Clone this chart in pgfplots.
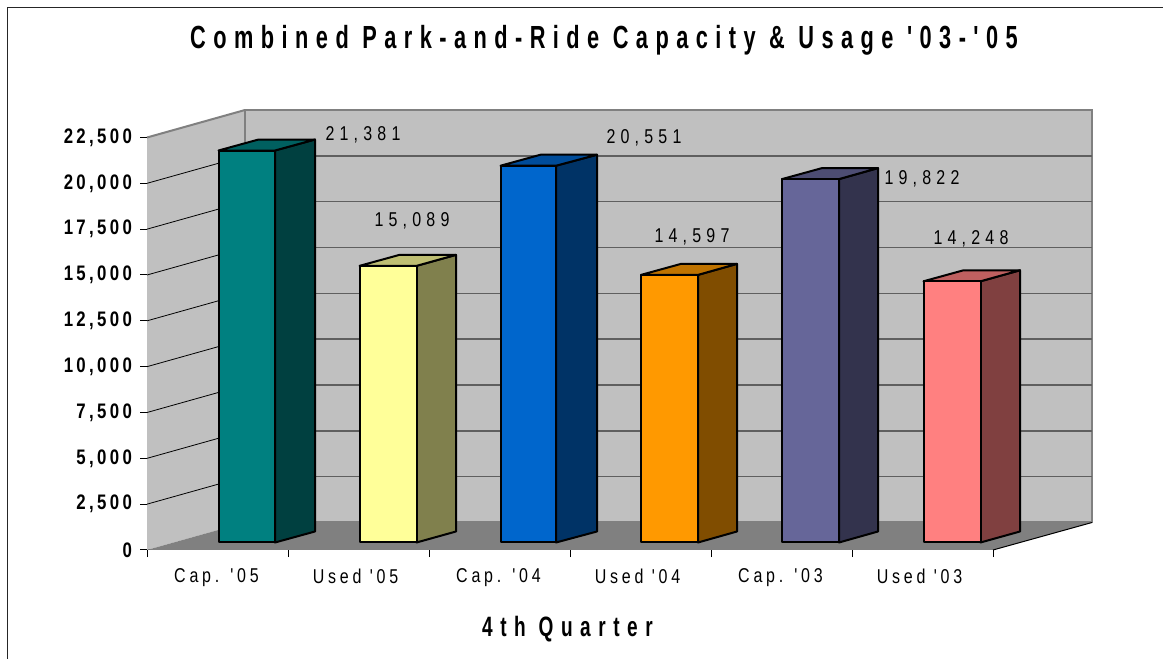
\documentclass[border=0pt]{standalone}
\usepackage{fontspec}
\usepackage{pgfplots}
\pgfplotsset{compat=1.18}
\setmainfont{Liberation Sans}
\newfontfamily\titlefont[FakeStretch=0.68,LetterSpace=23.3]{Liberation Sans}
\newfontfamily\quarterfont[FakeStretch=0.68,LetterSpace=27]{Liberation Sans}
\newfontfamily\labelfont[FakeStretch=0.8,LetterSpace=16]{Liberation Sans}
\newfontfamily\catfont[FakeStretch=0.8,LetterSpace=19]{Liberation Sans}
\newfontfamily\valuefont[FakeStretch=0.8,LetterSpace=26]{Liberation Sans}
\definecolor{wall}{HTML}{C0C0C0}
\definecolor{edge}{HTML}{808080}
\definecolor{gridc}{HTML}{5F5F5F}
\definecolor{tealf}{HTML}{008080}\definecolor{teals}{HTML}{004040}\definecolor{tealt}{HTML}{006060}
\definecolor{yelf}{HTML}{FFFF99}\definecolor{yels}{HTML}{80804D}\definecolor{yelt}{HTML}{BFBF73}
\definecolor{bluef}{HTML}{0066CC}\definecolor{blues}{HTML}{003366}\definecolor{bluet}{HTML}{004C99}
\definecolor{orgf}{HTML}{FF9900}\definecolor{orgs}{HTML}{804D00}\definecolor{orgt}{HTML}{BF7300}
\definecolor{purf}{HTML}{666699}\definecolor{purs}{HTML}{33334D}\definecolor{purt}{HTML}{4D4D73}
\definecolor{pinkf}{HTML}{FF8080}\definecolor{pinks}{HTML}{804040}\definecolor{pinkt}{HTML}{BF6060}
% one 3d column: side face, top face, front face (shifted up off the front edge of the floor)
% args: x left, x right, x left back, x right back, value, value+depth, colours
\newcommand{\threedbar}[9]{
  \addplot[draw=black, line width=2pt, line join=round, fill=#8, yshift=7.5pt] coordinates {(#2,0)(#2,#5)(#4,#6)(#4,600)} -- cycle;
  \addplot[draw=black, line width=2pt, line join=round, fill=#9, yshift=7.5pt] coordinates {(#1,#5)(#3,#6)(#4,#6)(#2,#5)} -- cycle;
  \addplot[draw=black, line width=2pt, line join=round, fill=#7, yshift=7.5pt] coordinates {(#1,0)(#1,#5)(#2,#5)(#2,0)} -- cycle;
}
\begin{document}
\begin{tikzpicture}
\useasboundingbox (0,0) rectangle (1163pt,659pt);
\draw[line width=1.8pt, color=black!85] (7.5pt,0) -- (7.5pt,651.5pt) -- (1163pt,651.5pt);
\begin{axis}[
  at={(147pt,109pt)}, anchor=south west,
  scale only axis, width=846pt, height=412.5pt,
  xmin=147, xmax=993, ymin=0, ymax=22500,
  clip=false,
  axis x line*=bottom, axis y line*=left,
  axis line style={line width=1pt, -},
  ytick={0,2500,...,22500},
  xtick={216.5,355.5,498.5,637.5,780.5,919.5},
  xticklabels={Cap. '05,Used '05,Cap. '04,Used '04,Cap. '03,Used '03},
  minor xtick={147,288,429,570,711,852,993},
  tick align=outside,
  major x tick style={draw=none},
  minor tick length=7pt,
  major tick length=7pt,
  tick style={black, line width=1pt},
  /pgf/number format/assume math mode=true,
  /pgf/number format/1000 sep={,},
  scaled y ticks=false,
  yticklabel style={font=\labelfont\bfseries\fontsize{21}{21}\selectfont, xshift=-4.5pt},
  xticklabel style={font=\catfont\fontsize{20}{20}\selectfont, yshift=-8pt},
  title={Combined Park-and-Ride Capacity \& Usage '03-'05},
  title style={font=\titlefont\bfseries\fontsize{32}{32}\selectfont, at={(0.5402,1.2205)}, anchor=center},
  xlabel={4th Quarter},
  xlabel style={font=\quarterfont\bfseries\fontsize{28}{28}\selectfont, at={(0.4970,-0.193)}, anchor=center},
]
% walls and floor
\addplot[fill=wall, draw=none] coordinates {(147,0)(245,1500)(245,24000)(147,22500)} -- cycle;
\addplot[fill=wall, draw=edge, line width=2pt] coordinates {(245,1500)(245,24000)(1092,24000)(1092,1500)} -- cycle;
\addplot[draw=edge, line width=2pt] coordinates {(147,22500)(245,24000)};
% grid on the back wall
\addplot[draw=gridc, line width=1.5pt, unbounded coords=jump] coordinates {
  (245,4000)(1092,4000) (nan,nan)
  (245,6500)(1092,6500) (nan,nan)
  (245,9000)(1092,9000) (nan,nan)
  (245,11500)(1092,11500) (nan,nan)
  (245,14000)(1092,14000) (nan,nan)
  (245,16500)(1092,16500) (nan,nan)
  (245,19000)(1092,19000) (nan,nan)
  (245,21500)(1092,21500)
};
% grid on the side wall
\addplot[draw=black, line width=0.8pt, unbounded coords=jump] coordinates {
  (147,2500)(245,4000) (nan,nan)
  (147,5000)(245,6500) (nan,nan)
  (147,7500)(245,9000) (nan,nan)
  (147,10000)(245,11500) (nan,nan)
  (147,12500)(245,14000) (nan,nan)
  (147,15000)(245,16500) (nan,nan)
  (147,17500)(245,19000) (nan,nan)
  (147,20000)(245,21500)
};
\addplot[fill=edge, draw=none] coordinates {(147,0)(993,0)(1092,1500)(245,1500)} -- cycle;
\addplot[draw=black, line width=1pt] coordinates {(993,0)(1092,1500)};
% columns
\threedbar{218.5}{275}{258.5}{315}{21381}{21981}{tealf}{teals}{tealt}
\threedbar{359.5}{416.5}{399.5}{456}{15089}{15689}{yelf}{yels}{yelt}
\threedbar{500.5}{556}{540.5}{597}{20551}{21151}{bluef}{blues}{bluet}
\threedbar{641}{698}{681}{737}{14597}{15197}{orgf}{orgs}{orgt}
\threedbar{782}{839}{822}{878}{19822}{20422}{purf}{purs}{purt}
\threedbar{923.5}{980.5}{963.5}{1020}{14248}{14848}{pinkf}{pinks}{pinkt}
% value labels
\node[font=\valuefont\fontsize{20}{20}\selectfont] at (axis cs:363,22640) {21,381};
\node[font=\valuefont\fontsize{20}{20}\selectfont] at (axis cs:412,17950) {15,089};
\node[font=\valuefont\fontsize{20}{20}\selectfont] at (axis cs:644,22500) {20,551};
\node[font=\valuefont\fontsize{20}{20}\selectfont] at (axis cs:692,17100) {14,597};
\node[font=\valuefont\fontsize{20}{20}\selectfont] at (axis cs:922,20270) {19,822};
\node[font=\valuefont\fontsize{20}{20}\selectfont] at (axis cs:971,17000) {14,248};
\end{axis}
\end{tikzpicture}
\end{document}
